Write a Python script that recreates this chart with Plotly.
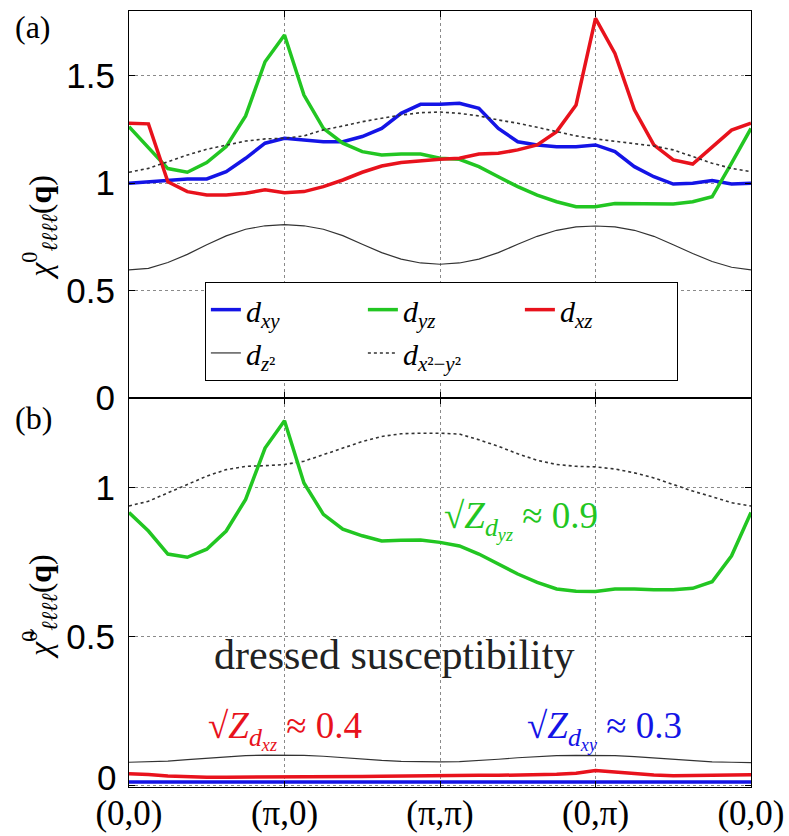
import plotly.graph_objects as go

# path parameter along (0,0)->(pi,0)->(pi,pi)->(0,pi)->(0,0)
path_x = [i / 8 for i in range(33)]
tick_vals = [0, 1, 2, 3, 4]
tick_text = ["(0,0)", "(π,0)", "(π,π)", "(0,π)", "(0,0)"]

# panel (a): bare susceptibility
dxy_a = [0.999, 1.006, 1.014, 1.019, 1.019, 1.053, 1.115, 1.185, 1.208,
         1.200, 1.192, 1.192, 1.216, 1.254, 1.324, 1.366, 1.366,
         1.371, 1.347, 1.254, 1.192, 1.177, 1.169, 1.169, 1.177,
         1.146, 1.076, 1.029, 0.995, 0.999, 1.011, 0.995, 0.999]
dyz_a = [1.262, 1.164, 1.067, 1.050, 1.095, 1.169, 1.312, 1.564, 1.688,
         1.409, 1.254, 1.185, 1.146, 1.130, 1.135, 1.135, 1.115,
         1.110, 1.076, 1.029, 0.983, 0.944, 0.913, 0.890, 0.890,
         0.905, 0.905, 0.901, 0.902, 0.913, 0.936, 1.092, 1.254]
dxz_a = [1.278, 1.275, 1.006, 0.960, 0.944, 0.944, 0.952, 0.968, 0.955,
         0.960, 0.983, 1.014, 1.050, 1.079, 1.095, 1.104, 1.110,
         1.115, 1.135, 1.138, 1.154, 1.177, 1.239, 1.363, 1.766,
         1.603, 1.340, 1.177, 1.107, 1.088, 1.169, 1.246, 1.278]
dz2_a = [0.596, 0.603, 0.630, 0.668, 0.713, 0.754, 0.785, 0.801, 0.806,
         0.801, 0.785, 0.755, 0.715, 0.676, 0.646, 0.628, 0.622,
         0.628, 0.646, 0.676, 0.715, 0.752, 0.780, 0.796, 0.800,
         0.796, 0.780, 0.752, 0.713, 0.672, 0.635, 0.608, 0.596]
dx2y2_a = [1.050, 1.068, 1.099, 1.130, 1.157, 1.177, 1.195, 1.205, 1.208,
           1.219, 1.247, 1.265, 1.285, 1.301, 1.316, 1.327, 1.330,
           1.324, 1.312, 1.293, 1.278, 1.259, 1.239, 1.219, 1.205,
           1.195, 1.185, 1.172, 1.154, 1.123, 1.092, 1.068, 1.053]

# panel (b): dressed susceptibility
dxy_b = [0.013, 0.013, 0.012, 0.012, 0.012, 0.012, 0.012, 0.012, 0.012,
         0.012, 0.012, 0.012, 0.012, 0.013, 0.013, 0.013, 0.013,
         0.013, 0.013, 0.013, 0.013, 0.013, 0.013, 0.013, 0.013,
         0.013, 0.013, 0.013, 0.013, 0.013, 0.013, 0.013, 0.013]
dyz_b = [0.916, 0.854, 0.777, 0.766, 0.793, 0.854, 0.960, 1.132, 1.224,
         1.015, 0.910, 0.860, 0.838, 0.821, 0.823, 0.824, 0.816,
         0.804, 0.777, 0.743, 0.710, 0.682, 0.660, 0.652, 0.651,
         0.660, 0.660, 0.657, 0.657, 0.662, 0.684, 0.771, 0.916]
dxz_b = [0.040, 0.038, 0.033, 0.030, 0.029, 0.029, 0.029, 0.030, 0.029,
         0.029, 0.030, 0.030, 0.031, 0.032, 0.033, 0.033, 0.034,
         0.034, 0.035, 0.035, 0.036, 0.037, 0.039, 0.042, 0.051,
         0.046, 0.040, 0.036, 0.034, 0.034, 0.035, 0.036, 0.037]
dz2_b = [0.079, 0.080, 0.083, 0.088, 0.093, 0.098, 0.101, 0.103, 0.103,
         0.102, 0.099, 0.094, 0.089, 0.085, 0.082, 0.080, 0.080,
         0.081, 0.084, 0.089, 0.094, 0.098, 0.101, 0.102, 0.102,
         0.101, 0.098, 0.093, 0.088, 0.083, 0.080, 0.079, 0.078]
dx2y2_b = [0.938, 0.954, 0.982, 1.010, 1.038, 1.060, 1.071, 1.073, 1.077,
           1.088, 1.110, 1.132, 1.154, 1.171, 1.180, 1.182, 1.182,
           1.179, 1.160, 1.138, 1.113, 1.091, 1.077, 1.071, 1.069,
           1.062, 1.049, 1.032, 1.010, 0.988, 0.969, 0.949, 0.938]

BLUE = "#1414e6"
GREEN = "#22c622"
RED = "#e8121c"
DARK = "#333333"
SERIF = "Liberation Serif, DejaVu Serif, serif"
SANS = "Liberation Sans, Arial, sans-serif"

def lab(s):
    return "<span style='font-size:30px'>" + s + "</span>"

names = [lab("<i>d</i><sub><i>xy</i></sub>"),
         lab("<i>d</i><sub><i>yz</i></sub>"),
         lab("<i>d</i><sub><i>xz</i></sub>"),
         lab("<i>d</i><sub><i>z</i>²</sub>"),
         lab("<i>d</i><sub><i>x</i>²−<i>y</i>²</sub>")]

fig = go.Figure()
series_a = [dxy_a, dyz_a, dxz_a, dz2_a, dx2y2_a]
series_b = [dxy_b, dyz_b, dxz_b, dz2_b, dx2y2_b]
styles = [dict(color=BLUE, width=3.5), dict(color=GREEN, width=3.5),
          dict(color=RED, width=3.5), dict(color=DARK, width=1.2),
          dict(color=DARK, width=1.6, dash="dot")]

for ys, st, nm in zip(series_a, styles, names):
    fig.add_trace(go.Scatter(x=path_x, y=ys, mode="lines", line=st, name=nm,
                             xaxis="x", yaxis="y", showlegend=True))
order_b = [3, 4, 2, 0, 1]
for i in order_b:
    fig.add_trace(go.Scatter(x=path_x, y=series_b[i], mode="lines", line=styles[i],
                             xaxis="x2", yaxis="y2", showlegend=False))

axis_common = dict(showline=True, linecolor="black", linewidth=1.2, mirror="ticks",
                   ticks="inside", ticklen=6, tickcolor="black",
                   showgrid=True, gridcolor="#8a8a8a", griddash="dot", gridwidth=1,
                   zeroline=False, automargin=False)

fig.update_layout(
    width=789, height=836,
    margin=dict(l=129, r=38, t=11, b=49),
    plot_bgcolor="white", paper_bgcolor="white",
    xaxis=dict(domain=[0, 1], anchor="y", range=[0, 4], tickvals=tick_vals,
               ticktext=tick_text, showticklabels=False, **axis_common),
    yaxis=dict(domain=[0.5013, 1], anchor="x", range=[0, 1.8],
               tickvals=[0, 0.5, 1, 1.5], ticktext=["0", "0.5", "1", "1.5"],
               ticklabelstandoff=6,
               tickfont=dict(family=SANS, size=35, color="black"), **axis_common),
    xaxis2=dict(domain=[0, 1], anchor="y2", range=[0, 4], tickvals=tick_vals,
                ticktext=tick_text, ticklabelstandoff=-5,
                tickfont=dict(family=SERIF, size=35, color="black"),
                **axis_common),
    yaxis2=dict(domain=[0, 0.5013], anchor="x2", range=[-0.004, 1.3],
                tickvals=[0, 0.5, 1], ticktext=["", "0.5", "1"],
                ticklabelstandoff=6,
                tickfont=dict(family=SANS, size=35, color="black"), **axis_common),
    legend=dict(x=0.122, y=0.6508, xanchor="left", yanchor="top",
                orientation="h", entrywidth=112, entrywidthmode="pixels",
                bgcolor="white", bordercolor="black", borderwidth=1,
                font=dict(family=SERIF, size=31, color="black"),
                traceorder="normal"),
    showlegend=True,
)

annots = [
    dict(text="(a)", xref="paper", yref="paper", x=-0.154, y=0.979,
         font=dict(family=SERIF, size=32, color="black")),
    dict(text="(b)", xref="paper", yref="paper", x=-0.154, y=0.4755,
         font=dict(family=SERIF, size=32, color="black")),
    dict(text="0", xref="paper", yref="paper", x=-0.018, y=0.0116, xanchor="right",
         font=dict(family=SANS, size=35, color="black")),
    dict(text="<i>χ</i><sup>0</sup><sub><i>ℓℓℓℓ</i></sub>(<b>q</b>)", xref="paper",
         yref="y domain", x=-0.143, y=0.44, textangle=-90,
         font=dict(family=SERIF, size=32, color="black")),
    dict(text="<i>χ̃</i><sup>0</sup><sub><i>ℓℓℓℓ</i></sub>(<b>q</b>)", xref="paper",
         yref="y2 domain", x=-0.143, y=0.463, textangle=-90,
         font=dict(family=SERIF, size=32, color="black")),
    dict(text="dressed susceptibility", xref="x2", yref="y2", x=1.704, y=0.437,
         font=dict(family=SERIF, size=42, color="#222222")),
    dict(text="√<i>Z</i><sub><i>d</i><sub><i>yz</i></sub></sub> ≈ 0.9", xref="x2", yref="y2",
         x=2.52, y=0.89, font=dict(family=SERIF, size=37, color=GREEN)),
    dict(text="√<i>Z</i><sub><i>d</i><sub><i>xz</i></sub></sub> ≈ 0.4", xref="x2", yref="y2",
         x=1.003, y=0.187, font=dict(family=SERIF, size=37, color=RED)),
    dict(text="√<i>Z</i><sub><i>d</i><sub><i>xy</i></sub></sub> ≈ 0.3", xref="x2", yref="y2",
         x=3.06, y=0.187, font=dict(family=SERIF, size=37, color=BLUE)),
]
for a in annots:
    a.setdefault("showarrow", False)
    a.setdefault("xanchor", "center")
    a.setdefault("yanchor", "middle")
    fig.add_annotation(**a)

fig.write_html("out.html", config={"displayModeBar": False},
               post_script="document.body.style.margin='0';document.body.style.overflow='hidden';")
